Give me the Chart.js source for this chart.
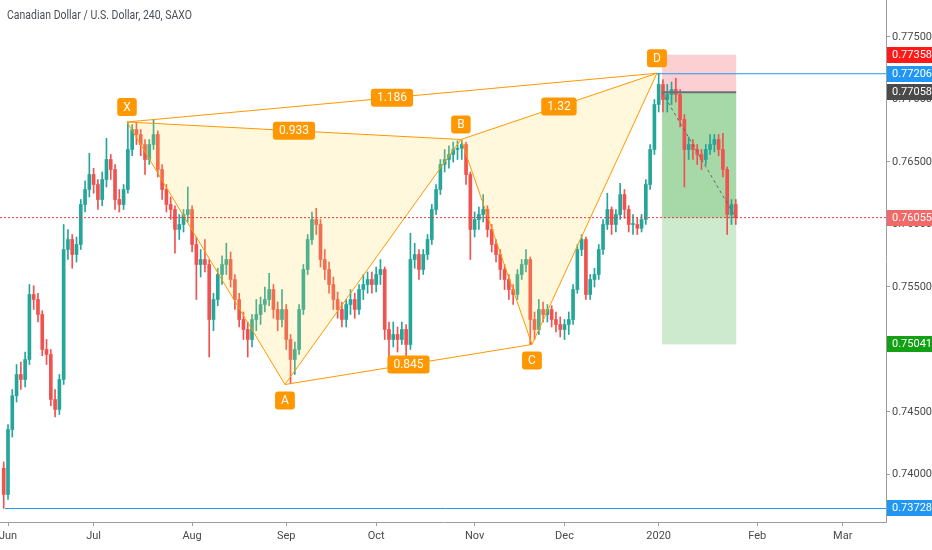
<!DOCTYPE html>
<html>
<head>
<meta charset="utf-8">
<script src="https://cdn.jsdelivr.net/npm/chart.js@4.4.0/dist/chart.umd.min.js"></script>
<style>
html,body{margin:0;padding:0;background:#fff}
#wrap{width:932px;height:550px;position:relative}
</style>
</head>
<body>
<div id="wrap"><canvas id="cad"></canvas></div>
<script>
'use strict'

// daily candles, x = trading day counted from 3 Jun 2019 (open = previous close)
var firstDay = -1;
var firstOpen = 0.7405;
var closes = [
  0.7384,
  0.7436,0.7463,0.7480,0.7476,0.7492,0.7544,0.7540,0.7528,0.7500,0.7496,
  0.7460,0.7452,0.7476,0.7580,0.7588,0.7576,0.7584,0.7616,0.7628,0.7640,
  0.7632,0.7620,0.7636,0.7652,0.7644,0.7620,0.7616,0.7628,0.7660,0.7676,
  0.7672,0.7664,0.7652,0.7664,0.7672,0.7644,0.7628,0.7616,0.7612,0.7596,
  0.7600,0.7608,0.7612,0.7584,0.7568,0.7572,0.7568,0.7524,0.7540,0.7560,
  0.7568,0.7572,0.7556,0.7540,0.7524,0.7516,0.7508,0.7524,0.7528,0.7536,
  0.7540,0.7548,0.7532,0.7524,0.7532,0.7508,0.7492,0.7500,0.7532,0.7564,
  0.7588,0.7604,0.7600,0.7572,0.7564,0.7552,0.7540,0.7532,0.7524,0.7536,
  0.7540,0.7532,0.7548,0.7552,0.7556,0.7552,0.7560,0.7564,0.7516,0.7508,
  0.7512,0.7508,0.7516,0.7504,0.7572,0.7576,0.7564,0.7576,0.7588,0.7612,
  0.7628,0.7648,0.7652,0.7656,0.7660,0.7661,0.7664,0.7640,0.7596,0.7604,
  0.7608,0.7612,0.7596,0.7584,0.7576,0.7564,0.7556,0.7548,0.7544,0.7560,
  0.7568,0.7572,0.7524,0.7516,0.7532,0.7528,0.7532,0.7524,0.7520,0.7516,
  0.7520,0.7524,0.7548,0.7580,0.7588,0.7544,0.7556,0.7560,0.7580,0.7600,
  0.7612,0.7600,0.7608,0.7624,0.7612,0.7600,0.7600,0.7597,0.7604,0.7632,
  0.7660,0.7696,0.7712,0.7700,0.7704,0.7708,0.7704,0.7684,0.7660,0.7664,
  0.7660,0.7656,0.7652,0.7660,0.7664,0.7668,0.7660,0.7644,0.7608,0.7616,
  0.76055];
var highs = [
  0.7410,
  0.7440,0.7468,0.7488,0.7490,0.7498,0.7552,0.7551,0.7545,0.7531,0.7508,
  0.7500,0.7468,0.7480,0.7600,0.7596,0.7592,0.7590,0.7620,0.7635,0.7657,
  0.7645,0.7636,0.7642,0.7669,0.7656,0.7648,0.7628,0.7632,0.7682,0.7680,
  0.7682,0.7676,0.7668,0.7668,0.7684,0.7675,0.7648,0.7632,0.7622,0.7615,
  0.7608,0.7612,0.7630,0.7615,0.7590,0.7580,0.7588,0.7572,0.7545,0.7565,
  0.7575,0.7585,0.7578,0.7560,0.7545,0.7530,0.7522,0.7528,0.7540,0.7542,
  0.7550,0.7561,0.7552,0.7538,0.7548,0.7536,0.7512,0.7506,0.7536,0.7568,
  0.7592,0.7610,0.7613,0.7604,0.7580,0.7570,0.7558,0.7546,0.7538,0.7540,
  0.7548,0.7545,0.7552,0.7560,0.7562,0.7562,0.7566,0.7572,0.7566,0.7522,
  0.7522,0.7518,0.7522,0.7520,0.7593,0.7585,0.7580,0.7580,0.7592,0.7616,
  0.7632,0.7652,0.7660,0.7663,0.7666,0.7667,0.7668,0.7666,0.7642,0.7610,
  0.7614,0.7624,0.7615,0.7600,0.7588,0.7580,0.7568,0.7560,0.7552,0.7564,
  0.7572,0.7580,0.7574,0.7530,0.7540,0.7538,0.7536,0.7535,0.7530,0.7526,
  0.7524,0.7530,0.7552,0.7584,0.7592,0.7590,0.7560,0.7565,0.7584,0.7604,
  0.7625,0.7614,0.7612,0.7633,0.7628,0.7615,0.7608,0.7605,0.7608,0.7636,
  0.7664,0.7700,0.7721,0.7716,0.7712,0.7714,0.7717,0.7708,0.7688,0.7670,
  0.7668,0.7664,0.7660,0.7664,0.7672,0.7672,0.7672,0.7673,0.7646,0.7620,
  0.7620];
var lows = [
  0.7373,
  0.7380,0.7430,0.7458,0.7468,0.7470,0.7488,0.7532,0.7522,0.7495,0.7488,
  0.7455,0.7446,0.7448,0.7472,0.7572,0.7565,0.7570,0.7580,0.7610,0.7622,
  0.7625,0.7612,0.7615,0.7630,0.7636,0.7612,0.7610,0.7612,0.7625,0.7655,
  0.7664,0.7655,0.7640,0.7648,0.7660,0.7638,0.7620,0.7610,0.7604,0.7577,
  0.7588,0.7594,0.7602,0.7578,0.7540,0.7558,0.7562,0.7494,0.7515,0.7535,
  0.7552,0.7560,0.7550,0.7532,0.7518,0.7508,0.7494,0.7502,0.7515,0.7520,
  0.7530,0.7535,0.7525,0.7515,0.7518,0.7500,0.7473,0.7480,0.7496,0.7528,
  0.7560,0.7584,0.7592,0.7566,0.7556,0.7545,0.7532,0.7525,0.7518,0.7518,
  0.7528,0.7525,0.7528,0.7540,0.7545,0.7545,0.7546,0.7552,0.7508,0.7494,
  0.7502,0.7498,0.7504,0.7494,0.7500,0.7565,0.7556,0.7560,0.7572,0.7584,
  0.7608,0.7624,0.7642,0.7645,0.7650,0.7652,0.7652,0.7632,0.7572,0.7590,
  0.7596,0.7602,0.7590,0.7578,0.7570,0.7556,0.7548,0.7540,0.7536,0.7540,
  0.7556,0.7562,0.7504,0.7508,0.7512,0.7522,0.7522,0.7518,0.7514,0.7510,
  0.7508,0.7512,0.7520,0.7545,0.7575,0.7540,0.7540,0.7550,0.7556,0.7576,
  0.7596,0.7592,0.7594,0.7604,0.7605,0.7594,0.7592,0.7592,0.7594,0.7600,
  0.7628,0.7656,0.7690,0.7690,0.7690,0.7696,0.7698,0.7678,0.7630,0.7652,
  0.7652,0.7648,0.7644,0.7648,0.7656,0.7658,0.7655,0.7638,0.7592,0.7600,
  0.7600];

var monthTicks = [0, 20, 43, 65, 86, 109, 130, 152, 175, 195];
var monthLabels = ['Jun', 'Jul', 'Aug', 'Sep', 'Oct', 'Nov', 'Dec', '2020', 'Feb', 'Mar'];
var priceTicks = [0.740, 0.745, 0.750, 0.755, 0.760, 0.765, 0.770, 0.775];

// harmonic pattern
var patternNames = ['X', 'A', 'B', 'C', 'D'];
var patternDays = [27.8, 64.7, 105.8, 122.4, 151.6];
var patternPrices = [0.7682, 0.7472, 0.7668, 0.7504, 0.7721];
var ratioLegs = [[0, 2], [0, 4], [2, 4], [1, 3]];
var ratioLabels = ['0.933', '1.186', '1.32', '0.845'];

// levels and short position
var levelD = 0.77206;
var levelLow = 0.73728;
var lastPrice = 0.76055;
var posStart = 152.8, posEnd = 170.1;
var stopPrice = 0.77358, entryPrice = 0.77058, targetPrice = 0.75041;

var tagPrices = [0.77358, 0.77206, 0.77058, 0.76055, 0.75041, 0.73728];
var tagColors = ['#ff1a1a', '#2196f3', '#4a4a4a', '#f06a6a', '#14a014', '#2196f3'];

var xMin = -1.87, xMax = 205.1;
var yMin = 0.73620, yMax = 0.77796;

var UP = '#26a69a', DOWN = '#ef5350', ORANGE = '#ff9800';
var NARROW = "'Liberation Sans Narrow', Roboto, sans-serif";

var wicks = [], bodies = [], colors = [];
for (var i = 0; i < closes.length; i++) {
  var o = i ? closes[i - 1] : firstOpen;
  var c = closes[i];
  var d = firstDay + i;
  wicks.push({x: d, y: [lows[i], highs[i]]});
  bodies.push({x: d, y: [Math.min(o, c), Math.max(o, c)]});
  colors.push(c >= o ? UP : DOWN);
}
var lastDay = firstDay + closes.length - 1;

function pt(k) { return {x: patternDays[k], y: patternPrices[k]}; }
function seg(data, color, dash, order, width) {
  return {type: 'line', data: data, borderColor: color, borderWidth: width || 1,
    borderDash: dash || [], pointRadius: 0, tension: 0, fill: false, order: order};
}

var datasets = [
  {type: 'bar', data: wicks, backgroundColor: colors, barThickness: 1, grouped: false, order: 4},
  {type: 'bar', data: bodies, backgroundColor: colors, barThickness: 3, minBarLength: 1, grouped: false, order: 3},
  {type: 'line', data: [pt(0), pt(1), pt(2), pt(0)], borderColor: ORANGE, borderWidth: 1,
    backgroundColor: 'rgba(255,220,80,0.2)', fill: 'shape', pointRadius: 0, tension: 0, order: 2},
  {type: 'line', data: [pt(2), pt(3), pt(4), pt(2)], borderColor: ORANGE, borderWidth: 1,
    backgroundColor: 'rgba(255,220,80,0.2)', fill: 'shape', pointRadius: 0, tension: 0, order: 2},
  seg([pt(0), pt(4)], ORANGE, null, 2),
  seg([pt(1), pt(3)], ORANGE, null, 2),
  seg([{x: patternDays[4], y: levelD}, {x: xMax, y: levelD}], '#2196f3', null, 1),
  seg([{x: firstDay + 0.3, y: levelLow}, {x: xMax, y: levelLow}], '#2196f3', null, 1),
  seg([{x: xMin, y: lastPrice}, {x: xMax, y: lastPrice}], '#e53935', [2, 2], 1),
  seg([{x: posStart, y: entryPrice}, {x: posEnd, y: entryPrice}], '#6d6f78', null, 1, 2),
  seg([{x: posStart, y: entryPrice}, {x: lastDay, y: lastPrice}], '#666', [3, 3], 1)
];

function box(chart, x0, x1, p0, p1, color) {
  var xs = chart.scales.x, ys = chart.scales.y, ctx = chart.ctx;
  var l = xs.getPixelForValue(x0), r = xs.getPixelForValue(x1);
  var t = ys.getPixelForValue(Math.max(p0, p1)), b = ys.getPixelForValue(Math.min(p0, p1));
  ctx.fillStyle = color;
  ctx.fillRect(l, t, r - l, b - t);
}

function pill(ctx, cx, cy, text) {
  ctx.font = '12px Roboto, sans-serif';
  var w = Math.max(19, ctx.measureText(text).width + 12), h = 18;
  ctx.fillStyle = ORANGE;
  ctx.beginPath();
  ctx.roundRect(cx - w / 2, cy - h / 2, w, h, 3);
  ctx.fill();
  ctx.fillStyle = '#fff';
  ctx.textAlign = 'center';
  ctx.textBaseline = 'middle';
  ctx.fillText(text, cx, cy + 0.5);
}

var overlay = {
  id: 'overlay',
  beforeDatasetsDraw: function (chart) {
    box(chart, posStart, posEnd, stopPrice, entryPrice, 'rgba(242,54,69,0.24)');
    box(chart, posStart, posEnd, entryPrice, targetPrice, 'rgba(76,175,80,0.28)');
    box(chart, posStart, posEnd, entryPrice, lastPrice, 'rgba(76,175,80,0.3)');
  },
  afterDatasetsDraw: function (chart) {
    var xs = chart.scales.x, ys = chart.scales.y, ctx = chart.ctx;
    ctx.save();
    for (var k = 0; k < patternNames.length; k++) {
      var px = xs.getPixelForValue(patternDays[k]), py = ys.getPixelForValue(patternPrices[k]);
      var above = patternPrices[k] > patternPrices[k === 0 ? 1 : k - 1];
      pill(ctx, px, above ? py - 15 : py + 16, patternNames[k]);
    }
    for (var j = 0; j < ratioLegs.length; j++) {
      var a = ratioLegs[j][0], b = ratioLegs[j][1];
      var mx = xs.getPixelForValue((patternDays[a] + patternDays[b]) / 2);
      var my = ys.getPixelForValue((patternPrices[a] + patternPrices[b]) / 2);
      pill(ctx, mx, my, ratioLabels[j]);
    }
    ctx.restore();
  },
  afterDraw: function (chart) {
    var ys = chart.scales.y, ctx = chart.ctx;
    ctx.save();
    ctx.font = '11px ' + NARROW;
    ctx.textAlign = 'left';
    ctx.textBaseline = 'middle';
    for (var k = 0; k < tagPrices.length; k++) {
      var py = Math.round(ys.getPixelForValue(tagPrices[k]));
      ctx.fillStyle = tagColors[k];
      ctx.fillRect(ys.left + 1, py - 8, chart.width - ys.left - 1, 16);
      ctx.fillStyle = '#fff';
      ctx.fillText(tagPrices[k].toFixed(5), ys.left + 6, py + 0.5);
    }
    // title
    var title = 'Canadian Dollar / U.S. Dollar, 240, SAXO';
    ctx.font = '13px ' + NARROW;
    ctx.fillStyle = '#4c4f58';
    var tw = ctx.measureText(title).width;
    ctx.translate(7, 16);
    if (tw > 185) ctx.scale(185 / tw, 1);
    ctx.fillText(title, 0, 0);
    ctx.restore();
  }
};

var ctx = document.getElementById('cad');
var chart = new Chart(ctx, {
  type: 'bar',
  data: {datasets: datasets},
  options: {
    responsive: true,
    maintainAspectRatio: false,
    animation: false,
    layout: {padding: 0},
    plugins: {legend: {display: false}, tooltip: {enabled: false}},
    scales: {
      x: {
        type: 'linear', min: xMin, max: xMax, offset: false,
        afterFit: function (s) { s.height = 28; s.paddingLeft = 0; s.paddingRight = 0; },
        afterBuildTicks: function (s) { s.ticks = monthTicks.map(function (v) { return {value: v}; }); },
        grid: {offset: false, drawOnChartArea: false, drawTicks: true, tickLength: 4, color: '#9a9da6'},
        border: {color: '#9a9da6'},
        ticks: {
          autoSkip: false, maxRotation: 0, padding: 4, color: '#4a4a4a',
          font: {size: 11, family: NARROW},
          callback: function (v) { return monthLabels[monthTicks.indexOf(v)]; }
        }
      },
      y: {
        position: 'right', min: yMin, max: yMax,
        afterFit: function (s) { s.width = 46; s.paddingTop = 0; s.paddingBottom = 0; },
        afterBuildTicks: function (s) { s.ticks = priceTicks.map(function (v) { return {value: v}; }); },
        grid: {drawOnChartArea: false, drawTicks: true, tickLength: 4, color: '#9a9da6'},
        border: {color: '#9a9da6'},
        ticks: {
          padding: 2, color: '#4a4a4a',
          font: {size: 11, family: NARROW},
          callback: function (v) { return v.toFixed(5); }
        }
      }
    }
  },
  plugins: [overlay]
});
</script>
</body>
</html>
